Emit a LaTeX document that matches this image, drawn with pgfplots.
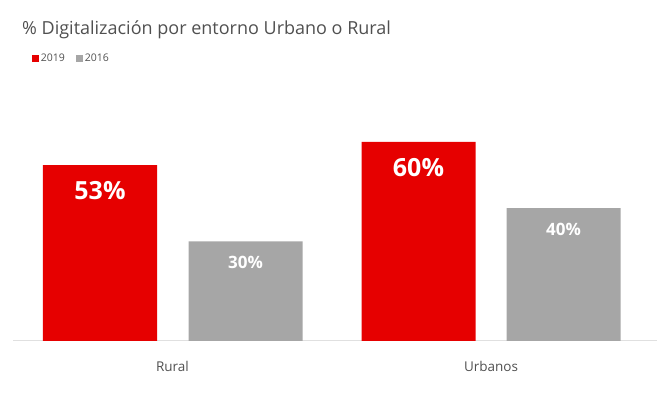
\documentclass[border=0pt]{standalone}
\usepackage{pgfplots}
\pgfplotsset{compat=1.18}
\usepackage{fontspec}
\setmainfont{Open Sans}
\definecolor{ingred}{HTML}{E60000}
\definecolor{inggrey}{HTML}{A6A6A6}
\definecolor{txt}{HTML}{505050}
\begin{document}
\begin{tikzpicture}
\path[use as bounding box] (0pt,0pt) rectangle (670pt,396pt);
\node[anchor=base west, text=txt, font=\fontsize{18}{21}\selectfont, inner sep=0pt] at (22pt,361pt) {\% Digitalización por entorno Urbano o Rural};
\begin{axis}[
  at={(13pt,55pt)}, anchor=south west,
  scale only axis, width=644pt, height=241pt,
  xmin=13, xmax=657, ymin=0, ymax=72.6,
  axis y line=none,
  axis x line*=bottom,
  x axis line style={draw=black!12, line width=1pt, -},
  xtick={172.5,491}, xticklabels={Rural,Urbanos},
  major tick length=0pt,
  xticklabel style={text=txt, font=\fontsize{13.5}{15}\selectfont, yshift=-17pt},
  /pgf/number format/assume math mode=true,
  legend style={at={(0.029,1.2)}, anchor=north west, draw=none, fill=none,
    font=\fontsize{10.5}{12}\selectfont, text=txt, legend columns=2,
    /tikz/every even column/.style={column sep=9pt}, inner sep=0pt},
  legend image code/.code={\fill[#1] (0pt,-3.5pt) rectangle (7pt,3.5pt);},
  nodes near coords={\pgfmathprintnumber{\pgfplotspointmeta}\%},
]
\addplot[ybar, bar width=114pt, bar shift=0pt, fill=ingred, draw=none,
  nodes near coords style={anchor=center, yshift=-26pt, text=white, font=\bfseries\fontsize{25}{28}\selectfont}]
  coordinates {(100,53) (418.5,60)};
\addlegendentry{2019}
\addplot[ybar, bar width=114pt, bar shift=0pt, fill=inggrey, draw=none,
  nodes near coords style={anchor=center, yshift=-21pt, text=white, font=\bfseries\fontsize{17}{20}\selectfont}]
  coordinates {(245.5,30) (563.5,40)};
\addlegendentry{2016}
\end{axis}
\end{tikzpicture}
\end{document}
